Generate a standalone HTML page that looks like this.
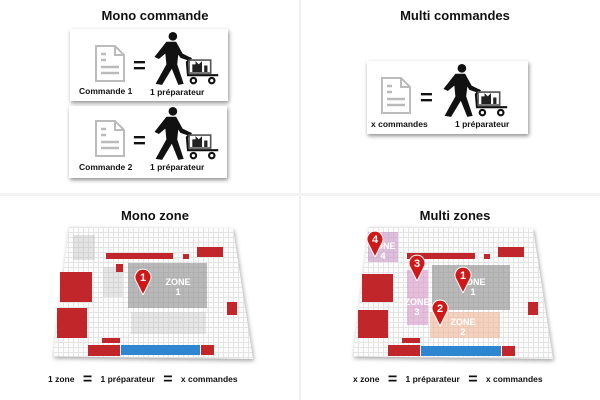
<!DOCTYPE html>
<html><head><meta charset="utf-8"><style>
body{margin:0;width:600px;height:400px;background:#fff;position:relative;overflow:hidden;font-family:"Liberation Sans",sans-serif}
.q{position:absolute;background:#fff}
.t{position:absolute;font-weight:bold;font-size:13px;color:#111;text-align:center;width:300px}
.card{position:absolute;width:158px;height:72px;background:#fff;box-shadow:1px 2px 4px rgba(0,0,0,.45)}
.lab{position:absolute;font-family:"Liberation Sans",sans-serif;font-weight:bold;font-size:8.5px;color:#111;white-space:nowrap}
.map{position:absolute;width:200px;height:132px}
.mapwrap{position:absolute;inset:0;filter:drop-shadow(1px 2px 2px rgba(0,0,0,.35))}
.mapbg{position:absolute;inset:0;clip-path:polygon(8% 0,90% 1%,100% 100%,0 98%);background-color:#fcfcfc;background-image:linear-gradient(#e4e4e4 1px,transparent 1px),linear-gradient(90deg,#e4e4e4 1px,transparent 1px);background-size:5px 5px}
.r{position:absolute;background:#c0262a}
.b{position:absolute;background:#2e86d0}
.s{position:absolute;background:#ccc}
.z{position:absolute;color:#fff;font-weight:bold;font-size:9px;text-align:center;line-height:10px}
.pin{position:absolute;width:18px;height:28px}
.foot{position:absolute;font-family:"Liberation Sans",sans-serif;font-weight:bold;font-size:8.5px;color:#111;white-space:nowrap;top:371px}
.eq{font-size:16px;margin:0 6px;vertical-align:-2px}
</style></head><body>
<div class="q" style="left:299px;top:0;width:2px;height:400px;background:#f0f0f0"></div>
<div class="q" style="left:0;top:193px;width:600px;height:3px;background:#f2f2f2"></div>

<svg width="0" height="0" style="position:absolute"><defs>
<symbol id="person" viewBox="0 0 70 50">
<circle cx="21" cy="4" r="4" fill="#111"/>
<path d="M15 9 L24 9 L30 20 L38 24 L37 27 L28 24 L26 21 L25 30 L31 48 L26 49 L20 34 L11 49 L5 48 L15 30 L14 20 L8 25 L4 23 Z" fill="#111"/>
<path d="M38 24 L34 28 L35 40 L63 40" stroke="#111" stroke-width="2" fill="none"/>
<rect x="36" y="26" width="20" height="12" fill="none" stroke="#555" stroke-width="1.5"/>
<path d="M39 37 L39 30 L42 30 L42 27 L45 30 L48 27 L48 37 Z M50 37 L50 31 L53 31 L53 37Z" fill="#222"/>
<circle cx="40" cy="45" r="2.5" fill="none" stroke="#111" stroke-width="2"/>
<circle cx="57" cy="45" r="2.5" fill="none" stroke="#111" stroke-width="2"/>
</symbol>
<symbol id="doc" viewBox="0 0 30 37">
<path d="M1 1 L20 1 L29 10 L29 36 L1 36 Z M20 1 L20 10 L29 10" fill="#fff" stroke="#bbb" stroke-width="2"/>
<path d="M6 9h5M6 15h5M6 22h18M6 28h18" stroke="#bbb" stroke-width="2.5"/>
</symbol>
<symbol id="pin" viewBox="0 0 18 28">
<path d="M9 28 L2 14 A8 8 0 1 1 16 14 Z" fill="#d01818" stroke="#fff" stroke-width="1"/>
</symbol>
</defs></svg>

<div class="t" style="left:5px;top:8px">Mono commande</div>
<div class="t" style="left:305px;top:8px">Multi commandes</div>
<div class="t" style="left:5px;top:208px">Mono zone</div>
<div class="t" style="left:305px;top:208px">Multi zones</div>

<div class="card" style="left:70px;top:29px">
<svg style="position:absolute;left:25px;top:16px" width="30" height="37"><use href="#doc"/></svg>
<div class="lab" style="left:63px;top:24px;font-size:22px">=</div>
<svg style="position:absolute;left:80px;top:3px" width="76" height="54"><use href="#person"/></svg>
<div class="lab" style="left:9px;top:57px">Commande 1</div>
<div class="lab" style="left:80px;top:58px">1 préparateur</div>
</div>
<div class="card" style="left:69px;top:106px">
<svg style="position:absolute;left:26px;top:14px" width="30" height="37"><use href="#doc"/></svg>
<div class="lab" style="left:64px;top:22px;font-size:22px">=</div>
<svg style="position:absolute;left:81px;top:1px" width="76" height="54"><use href="#person"/></svg>
<div class="lab" style="left:10px;top:56px">Commande 2</div>
<div class="lab" style="left:81px;top:56px">1 préparateur</div>
</div>
<div class="card" style="left:367px;top:61px;width:161px;height:73px">
<svg style="position:absolute;left:14px;top:16px" width="30" height="37"><use href="#doc"/></svg>
<div class="lab" style="left:53px;top:24px;font-size:22px">=</div>
<svg style="position:absolute;left:72px;top:3px" width="76" height="54"><use href="#person"/></svg>
<div class="lab" style="left:4px;top:58px">x commandes</div>
<div class="lab" style="left:88px;top:58px">1 préparateur</div>
</div>

<!-- Mono zone map -->
<div class="map" style="left:53px;top:227px">
<div class="mapwrap"><div class="mapbg"></div></div>
<div class="s" style="left:20px;top:8px;width:22px;height:25px;background:rgba(180,180,180,.35)"></div>
<div class="s" style="left:50px;top:40px;width:20px;height:30px;background:rgba(180,180,180,.3)"></div>
<div class="s" style="left:78px;top:85px;width:75px;height:22px;background:rgba(180,180,180,.3)"></div>
<div class="r" style="left:7px;top:45px;width:32px;height:30px"></div>
<div class="r" style="left:4px;top:81px;width:30px;height:30px"></div>
<div class="r" style="left:53px;top:26px;width:67px;height:6px"></div>
<div class="r" style="left:63px;top:37px;width:7px;height:8px"></div>
<div class="r" style="left:144px;top:20px;width:26px;height:10px"></div>
<div class="r" style="left:130px;top:27px;width:6px;height:5px"></div>
<div class="r" style="left:174px;top:75px;width:10px;height:13px"></div>
<div class="r" style="left:35px;top:118px;width:32px;height:11px"></div>
<div class="r" style="left:49px;top:111px;width:18px;height:5px"></div>
<div class="b" style="left:68px;top:118px;width:79px;height:10px"></div>
<div class="r" style="left:148px;top:118px;width:13px;height:10px"></div>
<div style="position:absolute;left:75px;top:36px;width:79px;height:45px;background:rgba(140,140,140,.6)"></div>
<div class="z" style="left:105px;top:50px;width:40px">ZONE<br>1</div>
<svg class="pin" style="left:81px;top:40px"><use href="#pin"/><text x="9" y="14" fill="#fff" font-size="11" font-weight="bold" text-anchor="middle" font-family="Liberation Sans">1</text></svg>
</div>

<!-- Multi zones map -->
<div class="map" style="left:353px;top:227px">
<div class="mapwrap"><div class="mapbg"></div></div>
<div class="r" style="left:9px;top:47px;width:31px;height:28px"></div>
<div class="r" style="left:5px;top:83px;width:30px;height:28px"></div>
<div class="r" style="left:54px;top:26px;width:68px;height:6px"></div>
<div class="r" style="left:145px;top:20px;width:26px;height:10px"></div>
<div class="r" style="left:131px;top:27px;width:6px;height:5px"></div>
<div class="r" style="left:175px;top:75px;width:10px;height:13px"></div>
<div class="r" style="left:35px;top:118px;width:32px;height:11px"></div>
<div class="r" style="left:49px;top:111px;width:18px;height:5px"></div>
<div class="b" style="left:68px;top:119px;width:80px;height:10px"></div>
<div class="r" style="left:149px;top:119px;width:13px;height:10px"></div>
<div style="position:absolute;left:15px;top:5px;width:30px;height:30px;background:rgba(200,150,200,.6)"></div>
<div class="z" style="left:15px;top:14px;width:30px">ZONE<br>4</div>
<div style="position:absolute;left:54px;top:43px;width:21px;height:55px;background:rgba(215,150,200,.6)"></div>
<div class="z" style="left:48px;top:70px;width:32px">ZONE<br>3</div>
<div style="position:absolute;left:79px;top:38px;width:78px;height:45px;background:rgba(140,140,140,.6)"></div>
<div class="z" style="left:100px;top:50px;width:40px">ZONE<br>1</div>
<div style="position:absolute;left:77px;top:85px;width:70px;height:26px;background:rgba(240,180,150,.6)"></div>
<div class="z" style="left:90px;top:90px;width:40px">ZONE<br>2</div>
<svg class="pin" style="left:13px;top:2px"><use href="#pin"/><text x="9" y="14" fill="#fff" font-size="11" font-weight="bold" text-anchor="middle" font-family="Liberation Sans">4</text></svg>
<svg class="pin" style="left:55px;top:26px"><use href="#pin"/><text x="9" y="14" fill="#fff" font-size="11" font-weight="bold" text-anchor="middle" font-family="Liberation Sans">3</text></svg>
<svg class="pin" style="left:101px;top:38px"><use href="#pin"/><text x="9" y="14" fill="#fff" font-size="11" font-weight="bold" text-anchor="middle" font-family="Liberation Sans">1</text></svg>
<svg class="pin" style="left:78px;top:71px"><use href="#pin"/><text x="9" y="14" fill="#fff" font-size="11" font-weight="bold" text-anchor="middle" font-family="Liberation Sans">2</text></svg>
</div>

<div class="foot" style="left:48px">1 zone <span class="eq">=</span> 1 préparateur <span class="eq">=</span> x commandes</div>
<div class="foot" style="left:353px">x zone <span class="eq">=</span> 1 préparateur <span class="eq">=</span> x commandes</div>
</body></html>
